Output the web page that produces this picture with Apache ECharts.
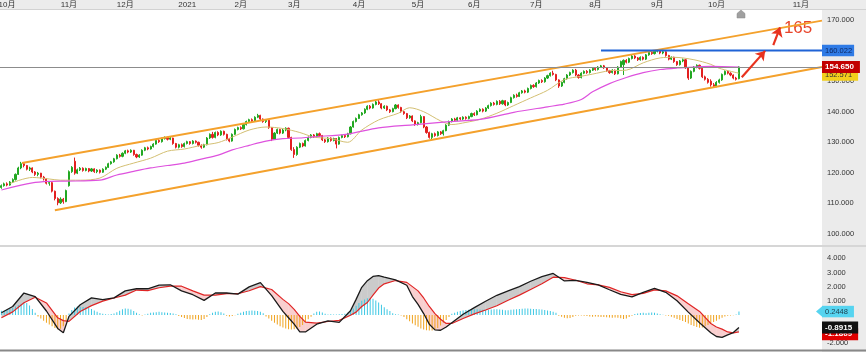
<!DOCTYPE html>
<html>
<head>
<meta charset="utf-8">
<script src="https://cdn.jsdelivr.net/npm/echarts@6/dist/echarts.min.js"></script>
<style>
  html, body { margin: 0; padding: 0; background: #fff; }
  #main { width: 866px; height: 352px; }
</style>
</head>
<body>
<div id="main"></div>
<script>
// 横轴：每个交易日一格，右侧留空
var slotCount = 292
var monthIdx = [2, 24, 44, 66, 85, 104, 127, 148, 168, 190, 211, 233, 254, 284]
var monthNames = ['10月', '11月', '12月', '2021', '2月', '3月', '4月', '5月', '6月', '7月', '8月', '9月', '10月', '11月']

// K线 [open, close, low, high]
var candles = [
  [115.2,115.8,114.8,116.2],[115.8,116.4,115.5,116.8],[116.4,116.0,115.6,116.9],[116.0,117.0,115.8,117.3],[117.0,117.8,116.7,118.2],
  [117.8,119.5,117.5,119.8],[119.5,121.6,119.3,122.0],[121.6,123.0,121.2,123.6],[123.0,122.4,121.8,123.4],[122.4,121.2,120.8,122.6],
  [121.2,121.6,120.6,122.0],[121.6,120.3,119.9,121.8],[120.3,119.5,119.0,120.6],[119.5,119.9,118.9,120.3],[119.9,118.6,118.2,120.0],
  [118.6,118.0,117.5,119.0],[118.0,116.6,116.2,118.2],[116.6,116.8,115.8,117.3],[116.8,114.0,113.6,117.0],[114.0,111.6,111.0,114.2],
  [111.6,110.2,109.4,112.0],[110.2,111.4,109.8,112.0],[111.4,110.6,109.9,111.8],[110.6,114.2,110.4,114.5],[115.8,120.4,115.5,120.8],
  [120.4,121.8,120.0,122.2],[123.8,119.9,119.4,125.0],[119.9,121.0,119.6,121.4],[121.0,121.5,120.6,121.9],[121.5,120.8,120.4,121.8],
  [120.8,121.4,120.5,121.7],[121.4,120.6,120.2,121.6],[120.6,121.3,120.3,121.6],[121.3,120.4,120.0,121.5],[120.4,120.9,119.9,121.2],
  [120.9,120.2,119.8,121.1],[120.2,121.2,120.0,121.5],[121.2,121.8,120.9,122.1],[121.8,123.0,121.6,123.3],[123.0,123.6,122.7,123.9],
  [123.6,124.6,123.3,124.9],[124.6,125.8,124.4,126.1],[125.8,125.4,125.0,126.2],[125.4,126.4,125.1,126.7],[126.4,127.2,126.1,127.5],
  [127.2,126.8,126.4,127.6],[126.8,127.4,126.5,127.7],[127.4,126.0,125.6,127.5],[126.0,125.2,124.8,126.3],[125.2,125.8,124.9,126.1],
  [125.8,127.4,125.6,127.7],[127.4,128.2,127.1,128.5],[128.2,127.8,127.4,128.6],[127.8,128.6,127.6,128.9],[128.6,129.4,128.3,129.7],
  [129.4,130.6,129.2,130.9],[130.6,130.2,129.8,131.0],[130.2,131.2,129.9,131.5],[131.2,131.6,130.9,131.9],[131.6,131.0,130.6,131.8],
  [131.0,131.4,130.7,131.7],[131.4,129.6,129.2,131.5],[129.6,128.4,128.0,129.8],[128.4,129.2,128.0,129.5],[129.2,128.6,128.2,129.6],
  [128.6,129.6,128.3,129.9],[129.6,130.2,129.3,130.5],[130.2,129.6,129.2,130.4],[129.6,130.4,129.3,130.7],[130.4,130.0,129.6,130.6],
  [130.0,129.0,128.6,130.2],[129.0,128.4,127.9,129.3],[128.4,129.2,128.1,129.5],[129.2,131.4,129.0,131.7],[131.4,132.6,131.1,132.9],
  [132.6,131.6,131.2,133.4],[131.6,133.2,131.3,133.5],[133.2,132.4,132.0,133.6],[132.4,133.6,132.1,133.9],[133.6,132.6,132.2,133.8],
  [132.6,131.0,130.6,132.8],[131.0,130.4,130.0,131.4],[130.4,132.6,130.2,132.9],[132.6,134.2,132.4,134.5],[134.2,134.8,133.9,135.1],
  [134.8,134.4,134.0,135.2],[134.4,135.8,134.2,136.1],[135.8,136.8,135.5,137.1],[136.8,137.4,136.5,137.7],[137.4,137.0,136.6,137.8],
  [137.0,138.2,136.8,138.5],[138.2,138.8,137.9,139.3],[138.8,137.6,137.2,139.0],[137.6,136.8,136.4,137.8],[136.8,137.2,136.3,137.5],
  [137.2,134.8,134.4,137.3],[134.8,131.0,130.4,135.0],[131.0,133.0,130.8,133.3],[133.0,134.2,132.7,134.5],[134.2,133.0,132.6,134.4],
  [133.0,134.0,132.7,134.4],[134.0,134.6,133.6,134.9],[134.6,131.6,131.2,134.8],[131.6,127.6,127.2,131.8],[127.6,126.0,124.9,128.4],
  [126.0,128.4,125.6,128.7],[128.4,129.6,128.1,129.9],[129.6,128.8,128.4,129.9],[128.8,130.6,128.6,130.9],[130.6,131.6,130.3,131.9],
  [131.6,132.4,131.3,132.7],[132.4,131.8,131.4,132.7],[131.8,132.8,131.5,133.1],[132.8,132.2,131.8,133.2],[132.2,130.8,130.4,132.4],
  [130.8,130.2,129.8,131.1],[130.2,131.4,129.9,131.7],[131.4,130.6,130.2,131.6],[130.6,131.2,130.3,131.5],[131.2,129.4,128.0,131.4],
  [129.4,131.6,129.2,131.9],[131.6,132.2,131.3,132.5],[132.2,131.8,131.4,132.6],[131.8,132.8,131.6,133.1],[132.8,135.0,132.6,135.3],
  [135.0,136.8,134.8,137.1],[136.8,137.8,136.5,138.1],[137.8,139.0,137.6,139.3],[139.0,139.6,138.7,139.9],[139.6,140.8,139.3,141.1],
  [140.8,141.8,140.5,142.1],[141.8,141.2,140.8,142.2],[141.2,142.4,141.0,142.7],[142.4,143.2,142.1,143.5],[143.2,142.6,142.2,143.8],
  [142.6,141.2,140.8,142.8],[141.2,141.8,140.9,142.1],[141.8,140.6,140.2,142.0],[140.6,140.0,139.6,140.9],[140.0,141.0,139.8,141.3],
  [141.0,142.2,140.8,142.5],[142.2,141.4,141.0,142.4],[141.4,140.0,139.6,141.6],[140.0,139.4,139.0,140.3],[139.4,138.0,137.6,139.6],
  [138.0,138.6,137.7,138.9],[138.6,137.0,136.6,138.8],[137.0,135.8,135.4,137.2],[135.8,136.4,135.5,136.7],[136.4,138.4,136.2,139.0],
  [138.4,135.0,134.6,138.6],[135.0,133.2,132.8,135.3],[133.2,131.6,131.2,133.5],[131.6,132.8,130.7,133.1],[132.8,132.2,131.8,133.2],
  [132.2,133.4,131.9,133.7],[133.4,132.8,132.4,133.7],[132.8,133.8,132.2,134.1],[133.8,135.6,133.6,135.9],[135.6,136.8,135.3,137.1],
  [136.8,137.6,136.5,137.9],[137.6,137.2,136.8,138.0],[137.2,138.0,136.9,138.3],[138.0,137.6,137.2,138.2],[137.6,138.2,137.3,138.5],
  [138.2,137.8,137.4,138.5],[137.8,138.4,137.5,138.7],[138.4,139.4,138.2,139.7],[139.4,139.0,138.6,139.8],[139.0,140.2,138.8,140.5],
  [140.2,140.8,139.9,141.1],[140.8,140.2,139.8,141.1],[140.2,141.2,139.9,141.5],[141.2,142.0,140.9,142.3],[142.0,142.8,141.7,143.1],
  [142.8,142.4,142.0,143.2],[142.4,143.4,142.1,143.7],[143.4,142.6,142.2,143.8],[142.6,143.6,142.3,143.9],[143.6,142.2,141.8,143.8],
  [142.2,143.0,141.9,143.3],[143.0,144.6,142.8,144.9],[144.6,145.4,144.3,145.7],[145.4,145.0,144.6,145.9],[145.0,146.2,144.8,146.5],
  [146.2,146.8,145.9,147.1],[146.8,146.4,146.0,147.2],[146.4,147.6,146.1,147.9],[147.6,148.6,147.3,148.9],[148.6,148.2,147.8,149.0],
  [148.2,149.4,147.9,149.7],[149.4,150.2,149.1,150.5],[150.2,149.8,149.4,150.6],[149.8,151.0,149.5,151.3],[151.0,151.8,150.7,152.1],
  [151.8,152.6,151.5,152.9],[152.6,152.2,151.8,153.4],[152.2,150.4,150.0,152.4],[150.4,148.4,147.8,150.6],[148.4,149.6,148.1,149.9],
  [149.6,150.8,149.3,151.1],[150.8,152.0,150.5,152.3],[152.0,152.8,151.7,153.1],[152.8,153.6,152.5,153.9],[153.6,152.0,151.6,154.0],
  [152.0,151.2,150.8,152.3],[151.2,152.6,150.9,152.9],[152.6,153.2,152.3,153.5],[153.2,152.8,152.4,153.6],[152.8,153.6,152.5,153.9],
  [153.6,154.2,153.3,154.5],[154.2,153.8,153.4,154.6],[153.8,154.6,153.5,154.9],[154.6,155.0,154.3,155.3],[155.0,154.4,154.0,155.3],
  [154.4,153.4,153.0,154.6],[153.4,152.8,152.4,153.7],[152.8,153.6,152.5,153.9],[153.6,152.4,152.0,153.8],[152.4,154.6,152.2,154.9],
  [154.6,156.4,154.3,156.7],[155.4,156.8,152.0,157.1],[156.8,156.2,155.8,157.2],[156.2,157.4,155.9,157.7],[157.4,158.2,157.1,158.6],
  [158.2,157.6,157.2,158.5],[157.6,157.0,156.6,157.9],[157.0,157.8,156.7,158.1],[157.8,157.2,156.8,158.1],[157.2,158.6,156.9,158.9],
  [158.6,159.4,158.3,159.7],[159.4,159.0,158.6,159.8],[159.0,159.8,158.7,160.1],[159.8,160.0,159.4,160.4],[160.0,159.2,158.8,160.2],
  [159.2,159.6,158.8,159.9],[159.6,158.4,158.0,159.8],[158.4,157.2,156.8,158.6],[157.2,157.8,156.9,158.1],[157.8,156.4,156.0,158.0],
  [156.4,155.4,155.0,156.6],[155.4,156.6,155.1,156.9],[156.6,157.0,156.2,157.4],[157.0,154.4,154.0,157.2],[154.4,151.0,150.4,154.6],
  [151.0,153.2,150.7,153.5],[153.2,154.6,152.9,154.9],[154.6,155.2,154.2,155.5],[155.2,154.2,153.8,155.4],[154.2,151.4,151.0,154.4],
  [151.4,150.6,150.2,151.8],[150.6,149.6,149.2,151.0],[150.0,148.8,148.2,150.6],[148.8,148.4,147.8,149.4],[148.4,149.6,148.0,150.0],
  [149.6,150.4,149.2,150.8],[150.4,152.2,150.1,152.5],[152.2,153.2,151.9,153.5],[153.2,152.6,152.2,153.6],[152.6,152.0,151.6,152.9],
  [152.0,151.0,150.6,152.2],[151.0,150.6,150.2,151.4],[150.8,154.65,150.6,154.9]
]

// 均线 [交易日序号, 值]
var maShort = [[3,116.5],[11,118.5],[17,118.0],[21,117.6],[28,117.6],[35,118.3],[41,121.5],[47,123.2],[53,124.8],[59,127.1],
  [65,127.8],[71,129.0],[77,129.9],[82,131.7],[88,134.0],[94,135.0],[100,134.5],[106,133.2],[111,131.7],[117,131.2],
  [123,130.0],[128,134.0],[134,137.3],[141,139.5],[145,141.3],[150,140.0],[156,137.0],[160,135.8],[165,136.5],[170,137.5],
  [176,139.5],[182,142.0],[188,144.5],[194,147.0],[200,150.5],[206,151.6],[210,152.3],[216,153.4],[222,153.6],[228,156.0],
  [234,157.6],[239,157.8],[246,157.0],[252,155.5],[255,154.2],[262,152.6]]
var maLong = [[0,114.4],[11,116.7],[17,117.2],[23,117.3],[35,117.6],[41,119.3],[47,120.5],[53,121.6],[59,122.4],[65,123.2],
  [71,124.5],[77,125.8],[82,127.5],[88,129.0],[94,130.4],[100,131.2],[106,131.4],[111,131.8],[123,132.7],[134,134.7],
  [146,135.7],[158,136.7],[170,137.5],[182,139.8],[194,141.6],[200,142.5],[206,144.0],[210,146.5],[216,149.2],[222,151.2],
  [228,152.8],[234,153.8],[240,154.3],[246,154.6],[252,154.8],[262,154.6]]

// 通道线和压力线
var upperChannel = [[7.3,123.2],[291.5,169.8]]
var lowerChannel = [[19,107.8],[291.5,154.6]]
var resistance = [[213,160.022],[291.5,160.022]]
var lastPrice = 154.65
var maShortLast = 152.0

// MACD
var macdLine = [[0,0.16],[4,0.60],[8,1.55],[12,1.30],[16,0.28],[20,-0.95],[22,-1.26],[24,-0.10],[28,0.72],[32,1.21],
  [36,1.09],[40,1.21],[44,1.70],[48,1.85],[52,1.85],[56,2.10],[60,2.13],[64,1.70],[68,1.43],[72,1.03],
  [76,1.55],[80,1.55],[84,1.47],[88,1.98],[92,2.28],[96,1.36],[100,0.25],[102,-0.20],[104,-0.65],[106,-1.20],
  [108,-1.20],[112,-0.65],[116,-0.42],[120,-0.52],[124,0.30],[126,1.10],[128,1.95],[130,2.42],[132,2.72],[134,2.78],
  [136,2.67],[140,2.48],[144,2.10],[146,1.30],[148,0.75],[150,0.10],[152,-0.65],[154,-1.05],[156,-1.08],[158,-0.85],
  [160,-0.55],[164,0.05],[168,0.52],[172,0.97],[176,1.39],[180,1.70],[184,2.00],[188,2.38],[192,2.70],[196,2.93],
  [200,2.40],[204,2.44],[208,2.30],[212,2.13],[216,1.78],[220,1.45],[224,1.27],[228,1.60],[232,1.88],[236,1.60],
  [240,1.00],[244,0.20],[248,-0.55],[252,-1.25],[254,-1.52],[256,-1.58],[258,-1.40],[260,-1.24],[262,-0.89]]
var signalLine = [[0,-0.19],[4,0.22],[8,0.86],[12,1.25],[16,0.85],[20,-0.20],[22,-0.40],[24,-0.45],[28,0.25],[32,0.66],
  [36,0.98],[40,1.20],[44,1.40],[48,1.76],[52,1.72],[56,1.92],[60,2.04],[64,2.03],[68,1.70],[72,1.40],
  [76,1.40],[80,1.50],[84,1.50],[88,1.71],[92,2.00],[96,1.80],[100,1.10],[102,0.80],[104,0.40],[106,-0.10],
  [108,-0.50],[112,-0.58],[116,-0.46],[120,-0.38],[124,-0.02],[126,0.20],[128,0.60],[130,0.88],[132,1.40],[134,1.90],
  [136,2.20],[140,2.43],[144,2.30],[146,2.00],[148,1.70],[150,1.20],[152,0.60],[154,0.10],[156,-0.30],[158,-0.60],
  [160,-0.60],[164,-0.25],[168,0.08],[172,0.35],[176,0.65],[180,1.04],[184,1.40],[188,1.80],[192,2.20],[196,2.67],
  [200,2.64],[204,2.45],[208,2.20],[212,2.13],[216,1.95],[220,1.64],[224,1.44],[228,1.52],[232,1.77],[236,1.70],
  [240,1.35],[244,0.80],[248,0.25],[252,-0.60],[254,-0.85],[256,-1.00],[258,-1.20],[260,-1.26],[262,-1.19]]
var macdHist = [
  0.30,0.32,0.36,0.42,0.50,0.60,0.70,0.80,0.88,0.84,0.66,0.42,0.15,
  -0.10,-0.25,-0.40,-0.55,-0.68,-0.80,-0.92,-1.00,-0.98,-0.80,-0.40,0.10,
  0.35,0.52,0.60,0.58,0.56,0.55,0.50,0.42,0.32,0.22,0.14,
  0.08,0.05,0.04,0.06,0.10,
  0.20,0.30,0.40,0.45,0.44,0.38,0.28,0.15,
  0.05,-0.03,0.04,0.08,
  0.15,0.18,0.20,0.22,0.20,0.18,0.16,0.14,0.10,0.05,
  -0.08,-0.15,-0.22,-0.28,-0.30,-0.32,-0.30,-0.33,-0.35,-0.28,-0.15,
  0.05,0.15,0.22,0.25,0.20,0.10,
  -0.05,-0.10,-0.08,-0.02,
  0.08,0.15,0.22,0.28,0.30,0.32,0.30,0.28,0.22,0.12,
  -0.10,-0.25,-0.40,-0.55,-0.68,-0.80,-0.88,-0.95,-1.00,-1.02,-1.00,-0.95,-0.85,-0.70,-0.50,-0.30,-0.12,
  0.10,0.22,0.25,0.18,0.08,
  0.04,0.05,0.03,0.04,0.05,0.06,0.08,
  0.15,0.28,0.45,0.65,0.85,1.00,1.10,1.18,1.20,1.15,1.02,0.88,0.72,0.55,0.40,0.28,
  0.12,0.05,0.03,-0.04,
  -0.15,-0.30,-0.45,-0.60,-0.72,-0.84,-0.95,-1.02,-1.08,-1.10,-1.10,-1.05,-0.92,-0.75,-0.55,-0.35,-0.15,
  0.08,0.15,0.22,0.28,0.32,0.35,0.36,0.38,0.40,0.40,0.38,0.36,0.35,0.36,0.38,0.40,0.40,0.38,0.36,0.34,
  0.34,0.36,0.38,0.40,0.42,0.44,0.45,0.45,0.44,0.42,0.42,0.40,0.38,0.35,0.32,0.28,0.22,0.15,
  -0.05,-0.12,-0.20,-0.24,-0.22,-0.15,-0.06,-0.03,-0.04,-0.06,-0.08,-0.10,-0.12,-0.10,-0.12,-0.15,-0.14,-0.16,
  -0.18,-0.20,-0.18,-0.20,-0.24,-0.28,-0.25,-0.15,-0.05,
  0.06,0.10,0.14,0.15,0.12,0.16,0.18,0.15,0.10,0.05,
  0.02,-0.03,-0.05,
  -0.12,-0.20,-0.28,-0.35,-0.42,-0.50,-0.60,-0.70,-0.78,-0.85,-0.90,-0.88,-0.80,-0.70,-0.60,-0.50,-0.40,-0.30,
  -0.20,-0.10,-0.05,-0.03,-0.02,
  0.04,0.2448
]

var days = []
for (var n = 0; n < slotCount; n++) days.push(n)

var font = "'Liberation Sans', 'Noto Sans CJK SC', sans-serif"
var upColor = '#22a822', downColor = '#e32020'
var hidden = { color: 'rgba(0,0,0,0)', width: 0 }

// MACD 与信号线之间的填充
function fillBetween(params, api) {
  var kids = []
  function poly(pts, up) {
    return {
      type: 'polygon',
      shape: { points: pts.map(function (p) { return api.coord(p) }) },
      style: { fill: up ? 'rgba(140,140,140,0.45)' : 'rgba(240,130,130,0.38)' }
    }
  }
  for (var k = 0; k < macdLine.length - 1; k++) {
    var a0 = macdLine[k], a1 = macdLine[k + 1], b0 = signalLine[k], b1 = signalLine[k + 1]
    var d0 = a0[1] - b0[1], d1 = a1[1] - b1[1]
    if (d0 * d1 >= 0) {
      kids.push(poly([a0, a1, b1, b0], d0 + d1 >= 0))
    } else {
      var t = d0 / (d0 - d1)
      var c = [a0[0] + t * (a1[0] - a0[0]), a0[1] + t * (a1[1] - a0[1])]
      kids.push(poly([a0, c, b0], d0 > 0))
      kids.push(poly([c, a1, b1], d1 > 0))
    }
  }
  return { type: 'group', children: kids }
}

function axisLabelBox(text, bg, fg, bold) {
  return {
    show: true, position: 'end', distance: 0, formatter: text,
    backgroundColor: bg, color: fg, fontSize: bold ? 8 : 7.5, fontWeight: bold ? 'bold' : 'normal',
    padding: [2, 6, 2, 3], fontFamily: font
  }
}

var myChart = echarts.init(document.getElementById('main'))
myChart.setOption({
  animation: false,
  textStyle: { fontFamily: font },
  graphic: [
    { type: 'rect', z: -10, silent: true, shape: { x: 0, y: 0, width: 866, height: 9 }, style: { fill: '#ececec' } },
    { type: 'rect', z: -10, silent: true, shape: { x: 822, y: 9, width: 44, height: 343 }, style: { fill: '#ebebeb' } },
    { type: 'line', z: -9, silent: true, shape: { x1: 0, y1: 9.5, x2: 866, y2: 9.5 }, style: { stroke: '#d2d2d2', lineWidth: 1 } },
    { type: 'line', z: -9, silent: true, shape: { x1: 0, y1: 246, x2: 866, y2: 246 }, style: { stroke: '#d6d6d6', lineWidth: 2 } },
    { type: 'line', z: -9, silent: true, shape: { x1: 0, y1: 350.5, x2: 866, y2: 350.5 }, style: { stroke: '#888', lineWidth: 2 } },
    { type: 'polygon', z: 10, silent: true, shape: { points: [[737, 18], [737, 13.5], [741, 10], [745, 13.5], [745, 18]] }, style: { fill: '#a0a0a0', stroke: '#888', lineWidth: 0.5 } },
    // 0.2448 标签左侧的尖角
    { type: 'polygon', z: 20, silent: true, shape: { points: [[816, 311.5], [822.5, 306], [822.5, 317]] }, style: { fill: '#56d4f0' } }
  ],
  grid: [
    { left: 0, right: 44, top: 20, height: 214, outerBoundsMode: 'none' },
    { left: 0, right: 44, top: 258.3, height: 85, outerBoundsMode: 'none' },
    { left: 0, right: 44, top: 0, height: 9, outerBoundsMode: 'none' }
  ],
  xAxis: [
    { type: 'category', gridIndex: 0, data: days, show: false },
    { type: 'value', gridIndex: 0, min: -0.5, max: slotCount - 0.5, show: false },
    { type: 'category', gridIndex: 1, data: days, show: false },
    { type: 'value', gridIndex: 1, min: -0.5, max: slotCount - 0.5, show: false },
    {
      type: 'category', gridIndex: 2, data: days, position: 'bottom',
      axisLine: { show: false }, axisTick: { show: false }, splitLine: { show: false },
      axisLabel: {
        inside: true, margin: 0, fontSize: 8, color: '#333', hideOverlap: false,
        interval: function (i) { return monthIdx.indexOf(i) >= 0 },
        formatter: function (v, i) { return monthNames[monthIdx.indexOf(i)] }
      }
    }
  ],
  yAxis: [
    {
      type: 'value', gridIndex: 0, position: 'right', min: 100, max: 170, interval: 10,
      splitLine: { show: false }, axisLine: { show: false }, axisTick: { show: false },
      axisLabel: { margin: 5, fontSize: 7.5, color: '#333', formatter: function (v) { return v.toFixed(3) } }
    },
    {
      type: 'value', gridIndex: 1, position: 'right', min: -2, max: 4, interval: 1,
      splitLine: { show: false }, axisLine: { show: false }, axisTick: { show: false },
      axisLabel: {
        margin: 5, fontSize: 7.5, color: '#333',
        formatter: function (v) { return (v === 0 || v === -1) ? '' : v.toFixed(3) }
      }
    },
    { type: 'value', gridIndex: 2, show: false }
  ],
  series: [
    {
      type: 'candlestick', xAxisIndex: 0, yAxisIndex: 0, data: candles, barWidth: 1.6, z: 3,
      itemStyle: { color: upColor, color0: downColor, borderColor: upColor, borderColor0: downColor, borderWidth: 1 },
      markLine: {
        silent: true, symbol: 'none', z: 6,
        lineStyle: { color: '#8c8c8c', width: 1, type: 'solid' },
        label: axisLabelBox('154.650', '#c20000', '#fff', true),
        data: [{ yAxis: lastPrice }]
      }
    },
    {
      type: 'line', xAxisIndex: 1, yAxisIndex: 0, data: maShort, symbol: 'none', smooth: 0.3, z: 4,
      lineStyle: { color: '#d3bf72', width: 1 },
      markLine: {
        silent: true, symbol: 'none', z: 5,
        lineStyle: hidden,
        label: axisLabelBox('152.571', '#f2cf1d', '#333', false),
        data: [{ yAxis: maShortLast }]
      }
    },
    {
      type: 'line', xAxisIndex: 1, yAxisIndex: 0, data: maLong, symbol: 'none', smooth: 0.3, z: 4,
      lineStyle: { color: '#de52de', width: 1.2 }
    },
    {
      type: 'line', xAxisIndex: 1, yAxisIndex: 0, data: upperChannel, symbol: 'none', z: 5,
      lineStyle: { color: '#f4a12c', width: 2 },
      // 手绘箭头和目标价
      markLine: {
        silent: true, symbol: ['none', 'arrow'], symbolSize: 9, z: 7,
        lineStyle: { color: '#e8321e', width: 2.2, type: 'solid' },
        label: { show: false },
        data: [
          [{ coord: [263, 151.25] }, { coord: [271.3, 159.9] }],
          [{ coord: [274.2, 161.8] }, { coord: [276.6, 167.6] }]
        ]
      },
      markPoint: {
        silent: true, symbol: 'circle', symbolSize: 1, itemStyle: { color: 'rgba(0,0,0,0)' },
        label: { show: true, position: 'inside', formatter: '165', color: '#e8442a', fontSize: 17,
          fontFamily: "'Liberation Sans Narrow', 'Liberation Sans', sans-serif" },
        data: [{ coord: [283, 167.4] }]
      }
    },
    {
      type: 'line', xAxisIndex: 1, yAxisIndex: 0, data: lowerChannel, symbol: 'none', z: 5,
      lineStyle: { color: '#f4a12c', width: 2 }
    },
    {
      type: 'line', xAxisIndex: 1, yAxisIndex: 0, data: resistance, symbol: 'none', z: 5,
      lineStyle: { color: '#1f63d6', width: 2 },
      endLabel: {
        show: true, formatter: '160.022', distance: 0, backgroundColor: '#2f7be6', color: '#0d2a66',
        fontSize: 7.5, padding: [2, 2, 2, 3]
      }
    },
    {
      type: 'custom', xAxisIndex: 3, yAxisIndex: 1, data: [[0, 0]], renderItem: fillBetween, silent: true, z: 1
    },
    {
      type: 'bar', xAxisIndex: 2, yAxisIndex: 1, data: macdHist, barWidth: 1, z: 2,
      itemStyle: { color: function (p) { return p.value >= 0 ? '#3ec8e4' : '#f0a31e' } },
      markLine: {
        silent: true, symbol: 'none', z: 5,
        lineStyle: hidden,
        label: axisLabelBox('0.2448', '#56d4f0', '#1d3b4a', false),
        data: [{ yAxis: 0.2448 }]
      }
    },
    {
      type: 'line', xAxisIndex: 3, yAxisIndex: 1, data: signalLine, symbol: 'none', z: 3,
      lineStyle: { color: '#e02525', width: 1.2 },
      markLine: {
        silent: true, symbol: 'none', z: 5,
        lineStyle: hidden,
        label: axisLabelBox('-1.1869', '#e00000', '#fff', true),
        data: [{ yAxis: -1.36 }]
      }
    },
    {
      type: 'line', xAxisIndex: 3, yAxisIndex: 1, data: macdLine, symbol: 'none', z: 4,
      lineStyle: { color: '#1a1a1a', width: 1.3 },
      markLine: {
        silent: true, symbol: 'none', z: 6,
        lineStyle: hidden,
        label: axisLabelBox('-0.8915', '#111', '#fff', true),
        data: [{ yAxis: -0.8915 }]
      }
    }
  ]
})
</script>
</body>
</html>
